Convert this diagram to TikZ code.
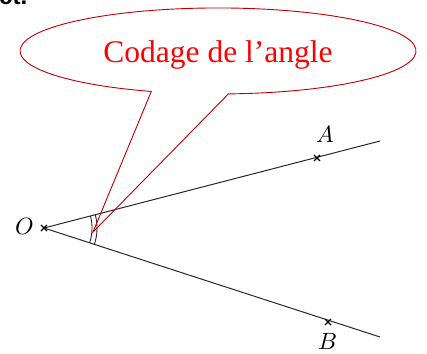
\documentclass[tikz,border=0pt]{standalone}
\usetikzlibrary{calc}
\usepackage{fontspec}
\setmainfont{Liberation Serif}
\newfontfamily\arialfont{Liberation Sans}
\usepackage{unicode-math}
\setmathfont{Latin Modern Math}
\definecolor{callred}{RGB}{192,0,0}
\definecolor{txtred}{RGB}{255,0,0}
\definecolor{raygray}{RGB}{40,40,40}
\begin{document}
\begin{tikzpicture}[x=1pt,y=1pt,
  ray/.style={draw=raygray,line width=1pt},
  crossmark/.style={line width=1.1pt,black},
  ptlabel/.style={font=\fontsize{23.5}{27}\selectfont},
  callout/.style={draw=callred,line width=0.9pt}]
\useasboundingbox (0,0) rectangle (427,-353);
% clipped text at the top
\node[anchor=base west,inner sep=0pt,font=\arialfont\bfseries\fontsize{24}{28}\selectfont] (top) at (-1,-5) {ct.};
% points
\coordinate (O) at (44,-228);
\coordinate (Aend) at (380,-141);
\coordinate (Bend) at (380,-337);
\coordinate (A) at (317,-158);
\coordinate (B) at (328,-322);
\draw[ray] (O) -- (Aend);
\draw[ray] (O) -- (Bend);
% cross marks
\foreach \p in {O,A,B}{
  \draw[crossmark] ($(\p)+(-3,-3)$) -- ($(\p)+(3,3)$);
  \draw[crossmark] ($(\p)+(-3,3)$) -- ($(\p)+(3,-3)$);
}
% labels
\node[ptlabel] (lO) at (25,-226) {$O$};
\node[ptlabel] (lA) at (325,-134) {$A$};
\node[ptlabel] (lB) at (328,-341) {$B$};
% angle coding
\draw[ray,line width=0.9pt] ($(O)+(14.52:48)$) arc[start angle=14.52,end angle=-17.97,radius=48];
\draw[ray,line width=0.9pt] ($(O)+(14.52:53)$) arc[start angle=14.52,end angle=-17.97,radius=53];
% callout
\coordinate (tip) at (93,-232);
\draw[callout] (228.4,-93.9) arc[start angle=-87,end angle=250.3,x radius=198,y radius=43] -- (tip) -- cycle;
\node[anchor=base,inner sep=0pt,text=txtred,font=\fontsize{31.5}{36}\selectfont] (ctext) at (218,-62) {Codage de l’angle};
\end{tikzpicture}
\end{document}
